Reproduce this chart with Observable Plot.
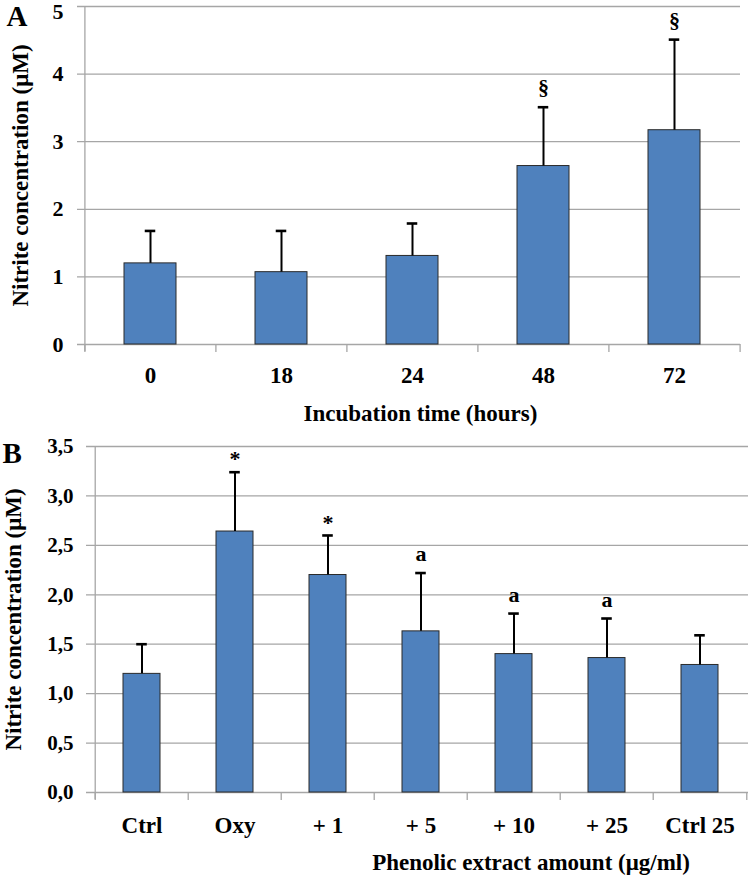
<!DOCTYPE html>
<html><head><meta charset="utf-8">
<script src="https://cdn.jsdelivr.net/npm/d3@7"></script>
<script src="https://cdn.jsdelivr.net/npm/@observablehq/plot@0.6"></script>
<style>body{margin:0;background:#fff} #chart svg{display:block}</style>
</head><body><div id="chart"></div>
<script>
// Panel A: incubation time
const timeLabels = ["0", "18", "24", "48", "72"];
const timeMeans = [1.20, 1.07, 1.31, 2.64, 3.17];
const timeErrTop = [1.68, 1.68, 1.79, 3.51, 4.51];
const timeMarks = ["", "", "", "§", "§"];
const yTicksA = [0, 1, 2, 3, 4, 5];

// Panel B: phenolic extract amount
const treatLabels = ["Ctrl", "Oxy", "+ 1", "+ 5", "+ 10", "+ 25", "Ctrl 25"];
const treatMeans = [1.20, 2.64, 2.20, 1.63, 1.40, 1.36, 1.29];
const treatErrTop = [1.50, 3.24, 2.60, 2.22, 1.81, 1.76, 1.59];
const treatMarks = ["", "*", "*", "a", "a", "a", ""];
const yTicksB = [0, 0.5, 1, 1.5, 2, 2.5, 3, 3.5];

const FONT = "'Liberation Serif', 'Times New Roman', serif";
const GRID = "#a6a6a6";
const BAR = "#4F81BD";

function panel(o) {
  const data = o.labels.map((l, i) => ({label: l, mean: o.means[i], err: o.errs[i], mark: o.marks[i]}));
  const fw = o.width - o.ml - o.mr;
  const fh = o.height - o.mt - o.mb;
  const step = fw / o.labels.length;
  const bw = step * 0.4;
  const capInset = (bw - 11) / 2;
  const last = o.labels[o.labels.length - 1];
  const topTick = o.ticks[o.ticks.length - 1];
  return Plot.plot({
    width: o.width, height: o.height,
    marginTop: o.mt, marginBottom: o.mb, marginLeft: o.ml, marginRight: o.mr,
    style: {fontFamily: FONT, fontWeight: "bold", background: "#fff", overflow: "visible", color: "#000"},
    x: {domain: o.labels, paddingInner: 0.6, paddingOuter: 0.3, axis: null},
    y: {domain: [0, o.yMax], axis: null},
    marks: [
      Plot.ruleY(o.ticks, {y: d => d, stroke: GRID, strokeWidth: 1.3, insetLeft: -7}),
      Plot.ruleX([o.labels[0]], {x: d => d, dx: -step / 2, stroke: GRID, strokeWidth: 1.3, insetBottom: -7}),
      Plot.ruleX(o.labels, {x: d => d, dx: -step / 2, stroke: GRID, strokeWidth: 1.3, insetTop: fh, insetBottom: -8}),
      Plot.ruleX([last], {x: d => d, dx: step / 2, stroke: GRID, strokeWidth: 1.3, insetTop: fh, insetBottom: -8}),
      Plot.barY(data, {x: "label", y: "mean", fill: BAR, stroke: "#2a2a2a", strokeWidth: 1}),
      Plot.ruleX(data, {x: "label", y1: "mean", y2: "err", stroke: "#000", strokeWidth: 2}),
      Plot.tickY(data, {x: "label", y: "err", stroke: "#000", strokeWidth: 2.6, inset: capInset}),
      Plot.text(data, {x: "label", y: "err", text: "mark", fontSize: o.markSize, filter: d => d.mark === "*", dy: -13}),
      Plot.text(data, {x: "label", y: "err", text: "mark", fontSize: o.markSize, filter: d => d.mark !== "*" && d.mark !== "", dy: -19}),
      Plot.text(o.ticks.filter(d => d !== topTick), {y: d => d, text: o.fmt, frameAnchor: "left", dx: o.tickDx, textAnchor: "end", lineAnchor: "middle", fontSize: o.tickSize}),
      Plot.text([topTick], {y: d => d, text: o.fmt, frameAnchor: "left", dx: o.tickDx, dy: o.topTickDy, textAnchor: "end", lineAnchor: "middle", fontSize: o.tickSize}),
      Plot.text(o.labels, {x: d => d, text: d => d, frameAnchor: "bottom", dy: o.xLabDy, lineAnchor: "middle", fontSize: 23}),
      Plot.text([o.xTitle], {text: d => d, frameAnchor: "bottom", dx: o.xTitleDx, dy: o.xTitleDy, lineAnchor: "middle", textAnchor: "middle", fontSize: 23}),
      Plot.text([o.yTitle], {text: d => d, frameAnchor: "left", dx: o.yTitleDx, rotate: -90, textAnchor: "middle", lineAnchor: "middle", fontSize: 23}),
      Plot.text([o.letter], {text: d => d, frameAnchor: "top-left", dx: o.letterDx, dy: o.letterDy, textAnchor: "start", lineAnchor: "middle", fontSize: 29})
    ]
  });
}

const chart = document.getElementById("chart");
chart.append(panel({
  labels: timeLabels, means: timeMeans, errs: timeErrTop, marks: timeMarks, ticks: yTicksA,
  fmt: d => String(d), yMax: 5,
  width: 750, height: 430, mt: 6, mb: 86, ml: 84, mr: 10,
  tickDx: -21, tickSize: 22, topTickDy: 5, markSize: 22, xLabDy: 31,
  xTitle: "Incubation time (hours)", xTitleDx: 8, xTitleDy: 69,
  yTitle: "Nitrite concentration (μM)", yTitleDx: -64,
  letter: "A", letterDx: -78, letterDy: 10
}));
chart.append(panel({
  labels: treatLabels, means: treatMeans, errs: treatErrTop, marks: treatMarks, ticks: yTicksB,
  fmt: d => d.toFixed(1).replace(".", ","), yMax: 3.5,
  width: 750, height: 446, mt: 16, mb: 84, ml: 93, mr: 2,
  tickDx: -20, tickSize: 21, topTickDy: 0, markSize: 22, xLabDy: 33,
  xTitle: "Phenolic extract amount (μg/ml)", xTitleDx: 110, xTitleDy: 70,
  yTitle: "Nitrite concentration (μM)", yTitleDx: -80,
  letter: "B", letterDx: -91, letterDy: 7
}));
</script>
</body></html>
